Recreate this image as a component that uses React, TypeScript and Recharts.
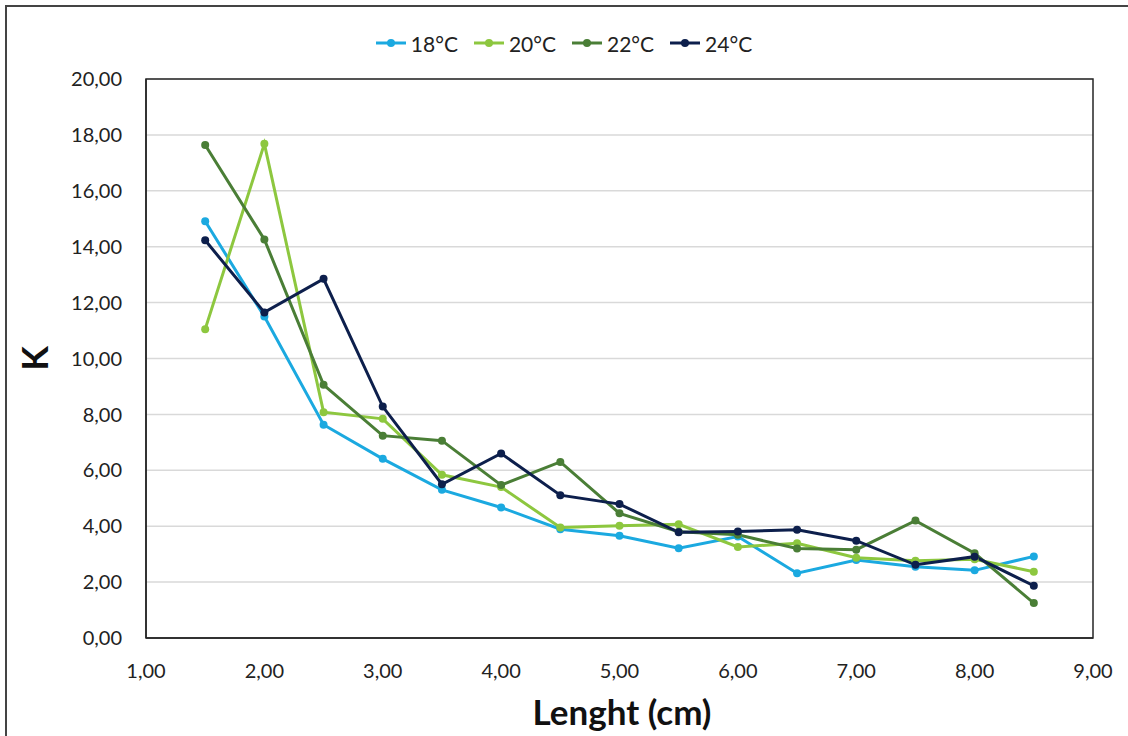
import { LineChart, Line, XAxis, YAxis, CartesianGrid, Legend, ReferenceArea } from 'recharts';

const lengths = [1.5, 2, 2.5, 3, 3.5, 4, 4.5, 5, 5.5, 6, 6.5, 7, 7.5, 8, 8.5];
const k18 = [14.91, 11.5, 7.63, 6.41, 5.3, 4.67, 3.89, 3.66, 3.21, 3.63, 2.32, 2.79, 2.55, 2.42, 2.92];
const k20 = [11.05, 17.68, 8.08, 7.84, 5.84, 5.4, 3.95, 4.02, 4.07, 3.26, 3.39, 2.87, 2.76, 2.82, 2.37];
const k22 = [17.64, 14.26, 9.06, 7.24, 7.06, 5.47, 6.3, 4.46, 3.8, 3.69, 3.2, 3.16, 4.2, 3.03, 1.25];
const k24 = [14.23, 11.65, 12.85, 8.28, 5.5, 6.6, 5.11, 4.79, 3.78, 3.81, 3.87, 3.48, 2.62, 2.91, 1.87];

const xTicks = [1, 2, 3, 4, 5, 6, 7, 8, 9];
const yTicks = [0, 2, 4, 6, 8, 10, 12, 14, 16, 18, 20];

const series = [
  { key: 't18', name: '18°C', color: '#1ba9e0', values: k18 },
  { key: 't20', name: '20°C', color: '#8dc73f', values: k20 },
  { key: 't22', name: '22°C', color: '#4a7e36', values: k22 },
  { key: 't24', name: '24°C', color: '#0d1f4c', values: k24 },
];

const data = lengths.map((x, i) => {
  const row: Record<string, number> = { x };
  series.forEach(s => { row[s.key] = s.values[i]; });
  return row;
});

const FONT = "Lato, 'Open Sans', sans-serif";
const fmt = (v: number) => v.toFixed(2).replace('.', ',');

function LegendContent() {
  return (
    <div style={{ height: 30, display: 'flex', justifyContent: 'center', alignItems: 'center', gap: 16, fontFamily: FONT, fontSize: 21, color: '#222' }}>
      {series.map(s => (
        <div key={s.key} style={{ display: 'flex', alignItems: 'center', gap: 5 }}>
          <svg width={30} height={10}>
            <line x1={0} y1={5} x2={30} y2={5} stroke={s.color} strokeWidth={3} />
            <circle cx={15} cy={5} r={4} fill={s.color} />
          </svg>
          <span>{s.name}</span>
        </div>
      ))}
    </div>
  );
}

export default function App() {
  return (
    <div style={{ position: 'absolute', left: 0, top: 0, width: 1128, height: 736, overflow: 'hidden', background: 'white' }}>
      <div style={{ position: 'absolute', left: 5, top: 5, width: 1300, height: 900, borderTop: '2px solid #444', borderLeft: '2px solid #444' }} />
      <div style={{ position: 'absolute', left: 0, top: 0 }}>
        <LineChart width={1128} height={736} data={data} margin={{ top: 49, right: 35, bottom: 0, left: 0 }}>
          <CartesianGrid vertical={false} stroke="#d9d9d9" strokeWidth={1.5} />
          <ReferenceArea x1={1} x2={9} y1={0} y2={20} fill="none" stroke="#262626" strokeWidth={1.5} />
          <XAxis
            dataKey="x"
            type="number"
            domain={[1, 9]}
            ticks={xTicks}
            tickFormatter={fmt}
            tickLine={false}
            tickSize={0}
            tickMargin={26}
            height={98}
            axisLine={{ stroke: '#262626', strokeWidth: 1.5 }}
            tick={{ fontSize: 20, fill: '#222', fontFamily: FONT }}
            label={({ viewBox }: any) => (
              <text x={viewBox.x + viewBox.width / 2 + 2.5} y={725} textAnchor="middle" fontFamily={FONT} fontWeight={700} fontSize={35} fill="#111">
                Lenght (cm)
              </text>
            )}
          />
          <YAxis
            type="number"
            domain={[0, 20]}
            ticks={yTicks}
            tickFormatter={fmt}
            tickLine={false}
            tickSize={0}
            tickMargin={24}
            width={146}
            axisLine={{ stroke: '#262626', strokeWidth: 1.5 }}
            tick={{ fontSize: 20, fill: '#222', fontFamily: FONT }}
            label={({ viewBox }: any) => {
              const cy = viewBox.y + viewBox.height / 2;
              return (
                <text x={48} y={cy} transform={`rotate(-90, 48, ${cy})`} textAnchor="middle" fontFamily={FONT} fontWeight={700} fontSize={36} fill="#111">
                  K
                </text>
              );
            }}
          />
          <Legend verticalAlign="top" align="center" content={() => <LegendContent />} wrapperStyle={{ top: 28, left: 0, width: 1128 }} />
          {series.map(s => (
            <Line
              key={s.key}
              dataKey={s.key}
              name={s.name}
              stroke={s.color}
              strokeWidth={3}
              dot={{ r: 4, fill: s.color, stroke: s.color, strokeWidth: 0 }}
              activeDot={false}
              isAnimationActive={false}
            />
          ))}
        </LineChart>
      </div>
    </div>
  );
}
